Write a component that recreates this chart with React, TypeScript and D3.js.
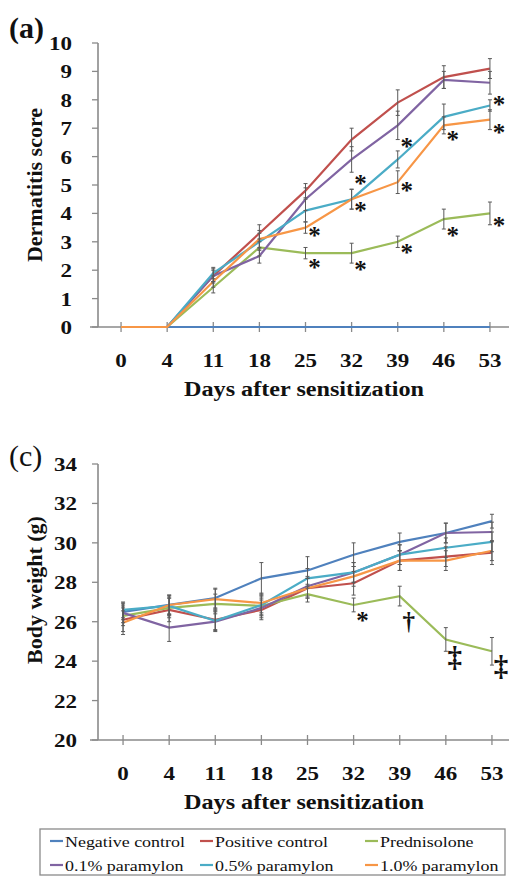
import React from 'react';
import * as d3 from 'd3';

// x categories (days after sensitization)
const days = ['0', '4', '11', '18', '25', '32', '39', '46', '53'];

const seriesNames = [
  'Negative control', 'Positive control', 'Prednisolone',
  '0.1% paramylon', '0.5% paramylon', '1.0% paramylon',
];
const seriesColors = ['#4F81BD', '#C0504D', '#9BBB59', '#8064A2', '#4BACC6', '#F79646'];

// (a) dermatitis score
const scoreNeg = [0, 0, 0, 0, 0, 0, 0, 0, 0];
const scorePos = [0, 0, 1.8, 3.3, 4.8, 6.6, 7.9, 8.8, 9.1];
const scorePred = [0, 0, 1.4, 2.8, 2.6, 2.6, 3.0, 3.8, 4.0];
const score01 = [0, 0, 1.8, 2.5, 4.5, 5.9, 7.1, 8.7, 8.6];
const score05 = [0, 0, 1.9, 3.0, 4.1, 4.5, 5.9, 7.4, 7.8];
const score10 = [0, 0, 1.6, 3.1, 3.5, 4.5, 5.1, 7.1, 7.3];

const scoreErrNeg = [0, 0, 0, 0, 0, 0, 0, 0, 0];
const scoreErrPos = [0, 0, 0.25, 0.3, 0.25, 0.4, 0.45, 0.4, 0.35];
const scoreErrPred = [0, 0, 0.2, 0.3, 0.2, 0.35, 0.2, 0.35, 0.4];
const scoreErr01 = [0, 0, 0.2, 0.25, 0.4, 0.45, 0.5, 0.3, 0.4];
const scoreErr05 = [0, 0, 0.2, 0.3, 0.4, 0.35, 0.3, 0.45, 0.2];
const scoreErr10 = [0, 0, 0.2, 0.3, 0.2, 0.35, 0.4, 0.3, 0.35];

// (c) body weight (g)
const weightNeg = [26.5, 26.85, 27.2, 28.2, 28.6, 29.4, 30.05, 30.5, 31.1];
const weightPos = [26.1, 26.6, 26.1, 26.6, 27.7, 27.95, 29.1, 29.3, 29.5];
const weightPred = [26.3, 26.7, 26.9, 26.8, 27.4, 26.85, 27.3, 25.1, 24.5];
const weight01 = [26.45, 25.7, 26.0, 26.7, 27.8, 28.5, 29.4, 30.5, 30.55];
const weight05 = [26.6, 26.8, 26.05, 26.85, 28.2, 28.5, 29.4, 29.75, 30.05];
const weight10 = [25.95, 26.85, 27.15, 26.95, 27.7, 28.3, 29.1, 29.1, 29.6];

const weightErrNeg = [0.4, 0.5, 0.5, 0.8, 0.7, 0.6, 0.45, 0.5, 0.35];
const weightErrPos = [0.6, 0.6, 0.5, 0.5, 0.5, 0.6, 0.5, 0.5, 0.6];
const weightErrPred = [0.5, 0.5, 0.5, 0.5, 0.4, 0.35, 0.5, 0.6, 0.7];
const weightErr01 = [0.5, 0.7, 0.5, 0.5, 0.5, 0.5, 0.5, 0.5, 0.5];
const weightErr05 = [0.4, 0.5, 0.5, 0.5, 0.5, 0.5, 0.5, 0.5, 0.5];
const weightErr10 = [0.6, 0.5, 0.5, 0.5, 0.5, 0.5, 0.5, 0.5, 0.5];

const scoreTicks = [0, 1, 2, 3, 4, 5, 6, 7, 8, 9, 10];
const weightTicks = [20, 22, 24, 26, 28, 30, 32, 34];

// significance marks: day, value (in y units) of symbol centre, symbol
const scoreMarks = [
  { day: '25', y: 3.38, s: '*' }, { day: '25', y: 2.22, s: '*' },
  { day: '32', y: 5.18, s: '*' }, { day: '32', y: 4.26, s: '*' }, { day: '32', y: 2.18, s: '*' },
  { day: '39', y: 6.51, s: '*' }, { day: '39', y: 4.93, s: '*' }, { day: '39', y: 2.78, s: '*' },
  { day: '46', y: 6.76, s: '*' }, { day: '46', y: 3.35, s: '*' },
  { day: '53', y: 7.99, s: '*' }, { day: '53', y: 7.0, s: '*' }, { day: '53', y: 3.73, s: '*' },
];
const weightMarks = [
  { day: '32', y: 26.24, s: '*' },
  { day: '39', y: 25.94, s: '†' },
  { day: '46', y: 24.1, s: '‡' },
  { day: '53', y: 23.65, s: '‡' },
];

const FONT = '"Liberation Serif", "Times New Roman", serif';
const AXIS = '#8a8a8a';
const SX = 1.18; // text in the figure is a bit wide

const St = ({ x, y, children, anchor = 'middle', size, weight = 'bold', sx = SX }: any) => (
  <text
    transform={`translate(${x},${y}) scale(${sx},1)`}
    textAnchor={anchor}
    fontFamily={FONT}
    fontSize={size}
    fontWeight={weight}
    fill="#111"
  >
    {children}
  </text>
);

const Panel = ({ x, y, ticks, series, errs, marks, label, labelWeight, labelY, yTitle, yTitleY, tickRight }: any) => {
  const y0 = y.range()[0];
  const yTop = y.range()[1];
  const axisX = 98;
  const line = d3.line<number>()
    .x((_, i) => x(days[i]) as number)
    .y((v) => y(v));

  return (
    <g>
      {/* panel label */}
      <text x={9} y={labelY} fontFamily={FONT} fontSize={30} fontWeight={labelWeight} fill="#111">
        {label}
      </text>

      {/* y axis */}
      <line x1={axisX} x2={axisX} y1={yTop} y2={y0} stroke={AXIS} strokeWidth={1.6} />
      {ticks.map((t: number) => (
        <g key={t}>
          <line x1={axisX - 6} x2={axisX} y1={y(t)} y2={y(t)} stroke={AXIS} strokeWidth={1.3} />
          <St x={tickRight} y={y(t) + 7} anchor="end" size={19.5}>{t}</St>
        </g>
      ))}
      <text
        transform={`translate(42,${yTitleY}) rotate(-90)`}
        textAnchor="middle"
        fontFamily={FONT}
        fontSize={22}
        fontWeight="bold"
        fill="#111"
      >
        {yTitle}
      </text>

      {/* x axis */}
      <line x1={90} x2={509} y1={y0} y2={y0} stroke={AXIS} strokeWidth={1.6} />
      {days.map((d) => (
        <g key={d}>
          <line x1={x(d)} x2={x(d)} y1={y0 - 5} y2={y0 + 5} stroke={AXIS} strokeWidth={1.3} />
          <St x={x(d)} y={y0 + 40} size={19.5}>{d}</St>
        </g>
      ))}
      <St x={304} y={y0 + 69} size={20.5}>Days after sensitization</St>

      {/* lines */}
      {series.map((vals: number[], si: number) => (
        <path key={si} d={line(vals) as string} fill="none" stroke={seriesColors[si]} strokeWidth={2.2} />
      ))}

      {/* error bars */}
      {series.map((vals: number[], si: number) =>
        vals.map((v, i) => {
          const e = errs[si][i];
          if (!e) return null;
          const cx = x(days[i]) as number;
          return (
            <g key={`${si}-${i}`} stroke="#5a5a5a" strokeWidth={1}>
              <line x1={cx} x2={cx} y1={y(v - e)} y2={y(v + e)} />
              <line x1={cx - 2} x2={cx + 2} y1={y(v - e)} y2={y(v - e)} />
              <line x1={cx - 2} x2={cx + 2} y1={y(v + e)} y2={y(v + e)} />
            </g>
          );
        })
      )}

      {/* significance marks */}
      {marks.map((m: any, i: number) => {
        const size = m.s === '*' ? 25 : m.s === '†' ? 25 : 29;
        const dy = m.s === '*' ? 0.5 : 0.27;
        return (
          <St key={i} x={(x(m.day) as number) + 9} y={y(m.y) + dy * size} size={size} sx={1}>
            {m.s}
          </St>
        );
      })}
    </g>
  );
};

const App = () => {
  const xA = d3.scalePoint<string>().domain(days).range([98, 513]).padding(0.5);
  const yA = d3.scaleLinear().domain([0, 10]).range([327, 43]);
  const xC = d3.scalePoint<string>().domain(days).range([100, 515]).padding(0.5);
  const yC = d3.scaleLinear().domain([20, 34]).range([740, 464]);

  const legendCols = [50, 200, 365];
  const legendRows = [841, 865];

  return (
    <svg width={509} height={876} style={{ position: 'absolute', left: 0, top: 0, background: '#fff' }}>
      <rect width={509} height={876} fill="#fff" />
      <Panel
        x={xA}
        y={yA}
        ticks={scoreTicks}
        series={[scoreNeg, scorePos, scorePred, score01, score05, score10]}
        errs={[scoreErrNeg, scoreErrPos, scoreErrPred, scoreErr01, scoreErr05, scoreErr10]}
        marks={scoreMarks}
        label="(a)"
        labelWeight="bold"
        labelY={38}
        yTitle="Dermatitis score"
        yTitleY={185}
        tickRight={72}
      />
      <Panel
        x={xC}
        y={yC}
        ticks={weightTicks}
        series={[weightNeg, weightPos, weightPred, weight01, weight05, weight10]}
        errs={[weightErrNeg, weightErrPos, weightErrPred, weightErr01, weightErr05, weightErr10]}
        marks={weightMarks}
        label="(c)"
        labelWeight="normal"
        labelY={466}
        yTitle="Body weight (g)"
        yTitleY={590}
        tickRight={77}
      />

      {/* legend */}
      <rect x={40} y={829} width={465} height={46} fill="none" stroke={AXIS} strokeWidth={1.3} />
      {seriesNames.map((name, i) => {
        const lx = legendCols[i % 3];
        const ly = legendRows[Math.floor(i / 3)];
        return (
          <g key={name}>
            <line x1={lx} x2={lx + 13} y1={ly} y2={ly} stroke={seriesColors[i]} strokeWidth={2.2} />
            <St x={lx + 15} y={ly + 6} anchor="start" size={15.2} weight="normal">{name}</St>
          </g>
        );
      })}
    </svg>
  );
};

export default App;
